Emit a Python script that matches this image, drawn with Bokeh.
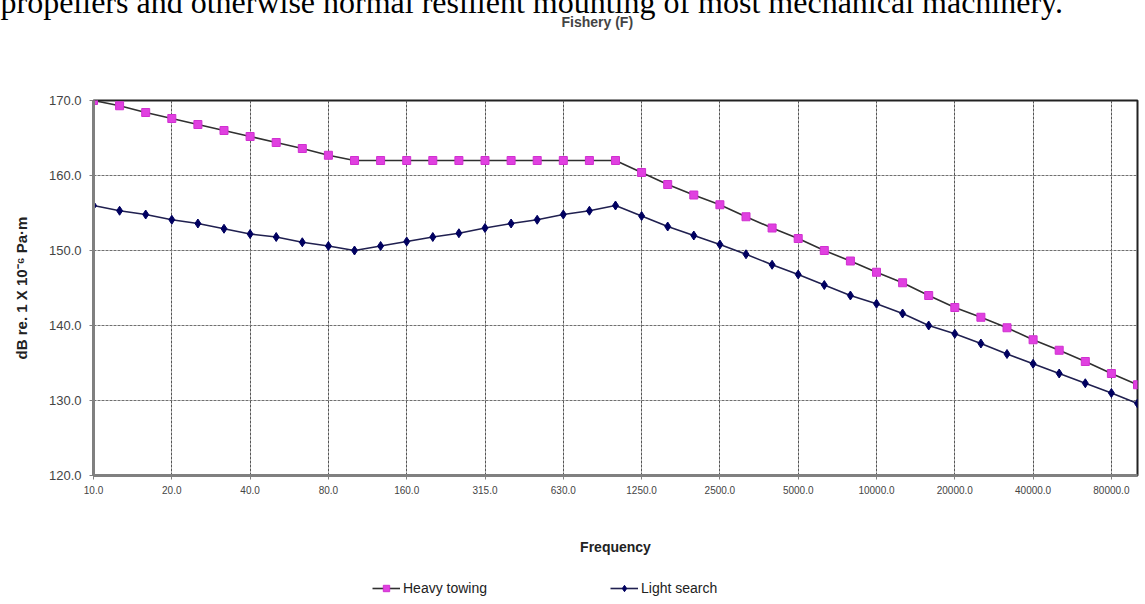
from bokeh.plotting import figure
from bokeh.layouts import column
from bokeh.models import Range1d, FixedTicker, Legend, LegendItem, Title, PrintfTickFormatter
from bokeh.embed import file_html
from bokeh.resources import INLINE

# ---- data ----
frequencies = [10, 12.5, 16, 20, 25, 31.5, 40, 50, 63, 80, 100, 125, 160, 200, 250, 315,
               400, 500, 630, 800, 1000, 1250, 1600, 2000, 2500, 3150, 4000, 5000, 6300,
               8000, 10000, 12500, 16000, 20000, 25000, 31500, 40000, 50000, 63000, 80000,
               100000]
heavy_towing = [170.0, 169.3, 168.4, 167.6, 166.8, 166.0, 165.2, 164.4, 163.6, 162.7, 162.0,
                162.0, 162.0, 162.0, 162.0, 162.0, 162.0, 162.0, 162.0, 162.0, 162.0,
                160.4, 158.8, 157.4, 156.1, 154.5, 153.0, 151.6, 150.0, 148.6, 147.1,
                145.7, 144.0, 142.4, 141.1, 139.7, 138.1, 136.7, 135.2, 133.6, 132.1]
light_search = [156.0, 155.3, 154.8, 154.1, 153.6, 152.9, 152.2, 151.8, 151.1, 150.6, 150.0,
                150.6, 151.2, 151.8, 152.3, 153.0, 153.6, 154.1, 154.8, 155.3, 156.0,
                154.6, 153.2, 152.0, 150.8, 149.5, 148.1, 146.8, 145.4, 144.0, 142.9,
                141.6, 140.0, 138.9, 137.6, 136.2, 134.9, 133.6, 132.3, 131.0, 129.6]
series_names = ["Heavy towing", "Light search"]
y_ticks = [120, 130, 140, 150, 160, 170]
label_step = 3
title_text = "Fishery (F)"
paragraph_text = "propellers and otherwise normal resilient mounting of most mechanical machinery."
x_title = "Frequency"
y_title = "dB re. 1 X 10\u207b\u2076 Pa\u00b7m"

idx = list(range(len(frequencies)))
tick_idx = idx[::label_step]
tick_labels = {i: f"{float(frequencies[i]):.1f}" for i in tick_idx}

FONT = "Liberation Sans"
W = 1140
FOOT_H = 30
MAIN_H = 600 - FOOT_H

p = figure(width=W, height=MAIN_H, output_backend="svg", toolbar_location=None,
           x_range=Range1d(0, len(frequencies) - 1), y_range=Range1d(120, 170),
           min_border_left=93, min_border_right=3, min_border_top=100,
           min_border_bottom=MAIN_H - 475)
p.outline_line_color = "#222222"
p.outline_line_width = 2

# header: spacer next to the frame, then chart title, then the cut-off page text
p.add_layout(Title(text=" ", text_font=FONT, text_font_size="10px", standoff=43), "above")
p.add_layout(Title(text=title_text, align="left", offset=468, vertical_align="top",
                   standoff=25, text_font=FONT, text_font_size="14px",
                   text_font_style="bold", text_color="#444444"), "above")
p.add_layout(Title(text=paragraph_text, align="left", offset=-93, vertical_align="bottom",
                   standoff=-37, text_font="Liberation Serif", text_font_size="32px",
                   text_font_style="normal", text_color="#000000"), "above")

p.xgrid.ticker = FixedTicker(ticks=tick_idx)
p.ygrid.ticker = FixedTicker(ticks=y_ticks)
p.xgrid.grid_line_color = "#555555"
p.xgrid.grid_line_dash = "3 1"
p.ygrid.grid_line_color = "#707070"
p.ygrid.grid_line_dash = "3 1"

p.xaxis.ticker = FixedTicker(ticks=tick_idx)
p.xaxis.major_label_overrides = tick_labels
p.yaxis.ticker = FixedTicker(ticks=y_ticks)
p.yaxis.formatter = PrintfTickFormatter(format="%.1f")
for ax in (p.xaxis, p.yaxis):
    ax.axis_line_color = "#808080"
    ax.axis_line_width = 3
    ax.major_tick_line_color = "#808080"
    ax.major_tick_out = 4
    ax.major_tick_in = 0
    ax.minor_tick_line_color = None
    ax.major_label_text_font = FONT
    ax.major_label_text_color = "#444444"
    ax.axis_label_text_font = FONT
    ax.axis_label_text_font_style = "bold"
    ax.axis_label_text_color = "#222222"
p.xaxis.major_label_text_font_size = "10px"
p.xaxis.major_label_standoff = 6
p.yaxis.major_label_text_font_size = "13px"
p.yaxis.major_label_standoff = 8
p.xaxis.axis_label = x_title
p.xaxis.axis_label_text_font_size = "14px"
p.xaxis.axis_label_standoff = 42
p.yaxis.axis_label = y_title
p.yaxis.axis_label_text_font_size = "15px"
p.yaxis.axis_label_standoff = 16

HT_STYLE = dict(line_color="#303030", line_width=1.6)
HT_MARK = dict(marker="square", size=8, fill_color="#E040E0", line_color="#D030D0")
LS_STYLE = dict(line_color="#202050", line_width=1.6)
LS_MARK = dict(marker="diamond", size=9, fill_color="#000060", line_color="#000060")

p.line(idx, heavy_towing, **HT_STYLE)
p.scatter(idx, heavy_towing, **HT_MARK)
p.line(idx, light_search, **LS_STYLE)
p.scatter(idx, light_search, **LS_MARK)

# ---- footer strip holding the legend (same frame width as the chart) ----
foot = figure(width=W, height=FOOT_H, output_backend="svg", toolbar_location=None,
              x_range=Range1d(0, len(frequencies) - 1), y_range=Range1d(0, 1),
              min_border_left=93, min_border_right=3, min_border_top=0,
              min_border_bottom=0, x_axis_type=None, y_axis_type=None)
foot.outline_line_color = None
foot.grid.visible = False
fl1 = foot.line(idx, heavy_towing, **HT_STYLE)      # outside the strip's y-range
fs1 = foot.scatter(idx, heavy_towing, **HT_MARK)
fl2 = foot.line(idx, light_search, **LS_STYLE)
fs2 = foot.scatter(idx, light_search, **LS_MARK)

legend = Legend(items=[LegendItem(label=series_names[0], renderers=[fl1, fs1]),
                       LegendItem(label=series_names[1], renderers=[fl2, fs2])],
                orientation="horizontal", location=(279, 4),
                label_text_font=FONT, label_text_font_size="14px",
                label_text_color="#222222", glyph_width=28, glyph_height=16,
                label_standoff=3, label_width=207, spacing=0, padding=0, margin=0,
                border_line_color=None, background_fill_alpha=0)
foot.add_layout(legend, "center")

open("out.html", "w").write(file_html(column(p, foot, spacing=0), INLINE))
